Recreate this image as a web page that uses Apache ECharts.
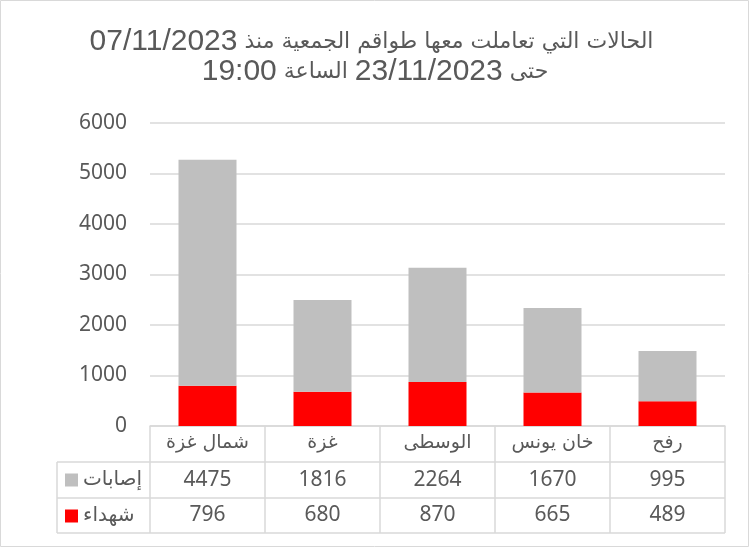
<!DOCTYPE html>
<html>
<head>
<meta charset="utf-8">
<script src="https://cdn.jsdelivr.net/npm/echarts@6/dist/echarts.min.js"></script>
<style>
  html, body { margin: 0; padding: 0; background: #fff; }
  #chart { width: 750px; height: 548px; }
</style>
</head>
<body>
<div id="chart"></div>
<script>
// data
var categories = ['شمال غزة', 'غزة', 'الوسطى', 'خان يونس', 'رفح'];
var injured = [4475, 1816, 2264, 1670, 995];   // إصابات
var killed = [796, 680, 870, 665, 489];        // شهداء
var yTicks = [0, 1000, 2000, 3000, 4000, 5000, 6000];

var AR = 'DejaVu Sans, sans-serif';
var NUM = 'Noto Sans, Liberation Sans, sans-serif';
var TXT = '#595959';
var LINE = '#D9D9D9';

var chart = echarts.init(document.getElementById('chart'));

// table lines (layout only)
var L = 150, R = 725, Y0 = 426, Y1 = 462, Y2 = 498, Y3 = 533, LEG = 57;
var colW = (R - L) / categories.length;
var lines = [];
function ln(x1, y1, x2, y2) {
  lines.push({ type: 'line', shape: { x1: x1, y1: y1, x2: x2, y2: y2 },
    style: { stroke: LINE, lineWidth: 1.5 }, silent: true });
}
for (var i = 0; i <= categories.length; i++) {
  ln(L + i * colW, Y0, L + i * colW, Y3);
}
ln(LEG, Y1, R, Y1);
ln(LEG, Y2, R, Y2);
ln(LEG, Y3, R, Y3);
ln(LEG, Y1, LEG, Y3);
lines.push({ type: 'rect', shape: { x: 0.5, y: 0.5, width: 748, height: 546 },
  style: { fill: 'none', stroke: LINE, lineWidth: 1 }, silent: true });

function rowAxis(values, offset) {
  return {
    type: 'category', data: categories, position: 'bottom', offset: offset,
    axisLine: { show: false }, axisTick: { show: false },
    axisLabel: {
      margin: 10, fontSize: 21, color: TXT, fontFamily: NUM,
      formatter: function (v, idx) { return String(values[idx]); }
    }
  };
}

var titleRich = {
  n: { fontSize: 30, fontWeight: 'normal', color: TXT, fontFamily: 'Liberation Sans, Arial, sans-serif', lineHeight: 30 },
  a: { fontSize: 22, fontWeight: 'normal', color: TXT, fontFamily: AR, lineHeight: 30 }
};

chart.setOption({
  animation: false,
  title: [
    { text: '{n|07/11/2023}{a| الحالات التي تعاملت معها طواقم الجمعية منذ }',
      left: 'center', top: 27, padding: 0,
      textStyle: { fontWeight: 'normal', rich: titleRich } },
    { text: '{n|19:00}{a| الساعة }{n|23/11/2023}{a| حتى}',
      left: 'center', top: 57, padding: 0,
      textStyle: { fontWeight: 'normal', rich: titleRich } }
  ],
  legend: [
    { data: ['إصابات'], left: 65, top: 470, icon: 'rect', itemWidth: 13, itemHeight: 13, itemGap: 4,
      padding: 0, textStyle: { fontSize: 20, color: TXT, fontFamily: AR } },
    { data: ['شهداء'], left: 65, top: 506, icon: 'rect', itemWidth: 13, itemHeight: 13, itemGap: 4,
      padding: 0, textStyle: { fontSize: 20, color: TXT, fontFamily: AR } }
  ],
  grid: { left: L, right: 750 - R, top: 123, bottom: 548 - Y0 },
  xAxis: [
    {
      type: 'category', data: categories,
      axisLine: { lineStyle: { color: LINE, width: 1.5 } },
      axisTick: { show: false },
      axisLabel: { margin: 8, fontSize: 19, color: TXT, fontFamily: AR }
    },
    rowAxis(injured, 34),
    rowAxis(killed, 69)
  ],
  yAxis: {
    type: 'value', min: yTicks[0], max: yTicks[yTicks.length - 1], interval: 1000,
    axisLine: { show: false }, axisTick: { show: false },
    axisLabel: { margin: 23, fontSize: 21, color: TXT, fontFamily: NUM,
      formatter: function (v) { return String(v); } },
    splitLine: { lineStyle: { color: LINE, width: 1.5 } }
  },
  series: [
    { name: 'شهداء', type: 'bar', stack: 'total', data: killed, barWidth: 58,
      itemStyle: { color: '#FF0000' } },
    { name: 'إصابات', type: 'bar', stack: 'total', data: injured, barWidth: 58,
      itemStyle: { color: '#BFBFBF' } }
  ],
  graphic: lines
});
</script>
</body>
</html>
